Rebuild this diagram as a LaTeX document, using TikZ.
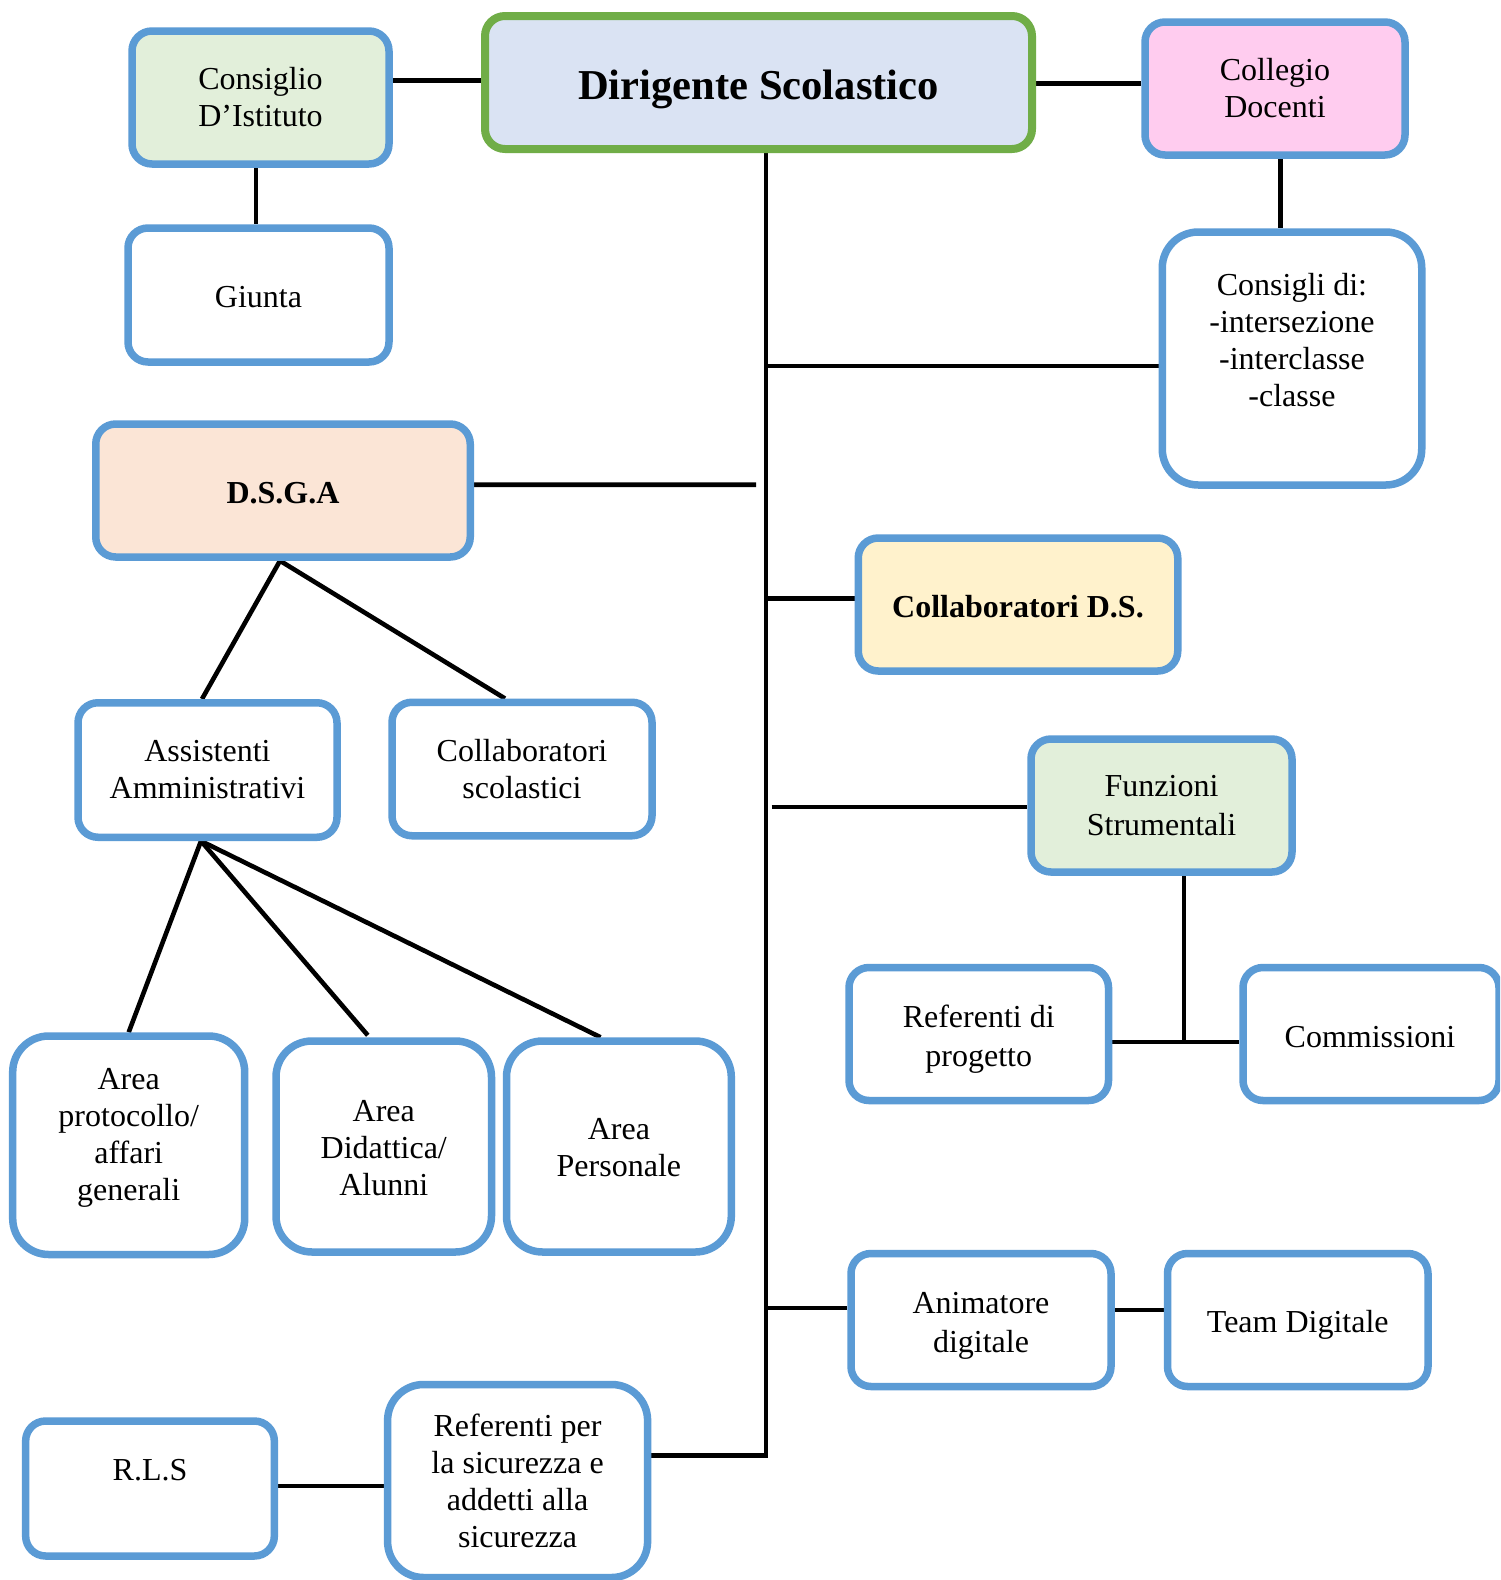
\documentclass[tikz,border=0pt]{standalone}
\usepackage{fontspec}
\setmainfont{Liberation Serif}
\usetikzlibrary{backgrounds}
\definecolor{bblue}{HTML}{5B9BD5}
\definecolor{dgreen}{HTML}{70AD47}
\definecolor{dfill}{HTML}{DAE3F3}
\definecolor{gfill}{HTML}{E2EFDA}
\definecolor{pfill}{HTML}{FFCCEF}
\definecolor{ofill}{HTML}{FBE5D6}
\definecolor{yfill}{HTML}{FFF2CC}
\begin{document}
\begin{tikzpicture}[x=0.5pt,y=-0.5pt,
  box/.style={draw=bblue, line width=3.75pt, rounded corners=10pt, fill=white, inner sep=0pt, align=center, font=\fontsize{16}{18.5}\selectfont},
  tallbox/.style={box, rounded corners=18pt},
  txt/.style={align=center, inner sep=0pt, font=\fontsize{16}{18.5}\selectfont},
  btxt/.style={align=center, inner sep=0pt, font=\fontsize{16}{18.5}\selectfont\bfseries},
  conn/.style={line width=2.3pt, draw=black},
]
\clip (0,0) rectangle (1500,1580);

\node[box, fill=gfill, minimum width=128.5pt, minimum height=66.5pt] (cons) at (260.5,97.5) {Consiglio\\D’Istituto};
\node[box, draw=dgreen, line width=4pt, fill=dfill, minimum width=273.5pt, minimum height=66.5pt] (dir) at (758.5,82.5) {};
\node[align=center, inner sep=0pt, font=\fontsize{21.3}{25}\selectfont\bfseries] (dirT) at (758.5,89) {Dirigente Scolastico};
\node[box, fill=pfill, minimum width=130pt, minimum height=66.5pt] (coll) at (1275,88.5) {Collegio\\Docenti};
\node[box, minimum width=130.5pt, minimum height=67pt] (giunta) at (258.5,295) {};
\node[txt] (giuntaT) at (258.5,297) {Giunta};
\node[tallbox, minimum width=129.75pt, minimum height=126.5pt] (consigli) at (1292,358.5) {};
\node[txt] (consigliT) at (1292,340) {Consigli di:\\-intersezione\\-interclasse\\-classe};
\node[box, fill=ofill, minimum width=187.25pt, minimum height=66.5pt] (dsga) at (283,490.5) {};
\node[btxt] (dsgaT) at (283,493.5) {D.S.G.A};
\node[box, fill=yfill, minimum width=159.75pt, minimum height=66.5pt] (collDS) at (1018,604.5) {};
\node[btxt] (collDST) at (1018,606.5) {Collaboratori D.S.};
\node[box, minimum width=129.5pt, minimum height=67.25pt] (assist) at (207.5,770) {Assistenti\\Amministrativi};
\node[box, minimum width=130pt, minimum height=66.75pt] (collScol) at (522,769) {Collaboratori\\scolastici};
\node[box, fill=gfill, minimum width=130.5pt, minimum height=66.5pt, font=\fontsize{16}{19.1}\selectfont] (funz) at (1161.5,805.5) {Funzioni\\Strumentali};
\node[box, minimum width=129.75pt, minimum height=66.5pt] (refProg) at (978.75,1034) {};
\node[txt, font=\fontsize{16}{19.6}\selectfont] (refProgT) at (978.75,1039) {Referenti di\\progetto};
\node[box, minimum width=128pt, minimum height=66.5pt] (comm) at (1371,1034) {};
\node[txt] (commT) at (1370,1037) {Commissioni};
\node[tallbox, minimum width=116pt, minimum height=109.25pt] (areaP) at (128.7,1145.25) {};
\node[txt] (areaPT) at (128.7,1138) {Area\\protocollo/\\affari\\generali};
\node[tallbox, minimum width=107.75pt, minimum height=105.5pt] (areaD) at (383.75,1146.5) {};
\node[txt] (areaDT) at (383.75,1148) {Area\\Didattica/\\Alunni};
\node[tallbox, minimum width=112.4pt, minimum height=105.5pt] (areaPe) at (618.9,1146.5) {};
\node[txt] (areaPeT) at (618.9,1148) {Area\\Personale};
\node[box, minimum width=130pt, minimum height=66.5pt] (anim) at (981,1320) {};
\node[txt, font=\fontsize{16}{19.2}\selectfont] (animT) at (981,1326) {Animatore\\digitale};
\node[box, minimum width=130.25pt, minimum height=66.5pt] (team) at (1297.75,1320) {};
\node[txt] (teamT) at (1297.75,1325) {Team Digitale};
\node[box, minimum width=124.35pt, minimum height=67.5pt] (rls) at (150,1488.5) {};
\node[txt] (rlsT) at (150,1470) {R.L.S};
\node[tallbox, minimum width=130pt, minimum height=96.5pt] (refSic) at (517.6,1481) {Referenti per\\la sicurezza e\\addetti alla\\sicurezza};

\begin{pgfonlayer}{background}
\fill[white] (0,0) rectangle (1500,1580);
\draw[conn] ([yshift=8.5pt]cons.east) -- ([yshift=1pt]dir.west);
\draw[conn] ([yshift=-0.5pt]dir.east) -- ([yshift=2.5pt]coll.west);
\draw[conn] ([xshift=-2.25pt]cons.south) -- ([xshift=-1.25pt]giunta.north);
\draw[conn] ([xshift=2.8pt]coll.south) -- ([xshift=-5.7pt]consigli.north);
\coordinate (tb) at (766,1455.5);
\draw[conn] ([xshift=3.75pt]dir.south) -- (tb) -- ([yshift=12.75pt]refSic.east);
\coordinate (j1) at (766,365.8);
\draw[conn] (j1) -- ([yshift=-3.65pt]consigli.west);
\coordinate (j2) at (756,484.7);
\draw[conn] ([yshift=2.9pt]dsga.east) -- (j2);
\coordinate (j3) at (766,598.3);
\draw[conn] (j3) -- ([yshift=3.1pt]collDS.west);
\coordinate (j4) at (771.5,807);
\draw[conn] (j4) -- ([yshift=-0.75pt]funz.west);
\coordinate (j5) at (1184,1042);
\draw[conn] ([xshift=11.25pt]funz.south) -- (j5);
\draw[conn] ([yshift=-4pt]refProg.east) -- ([yshift=-4pt]comm.west);
\coordinate (j6) at (766,1308);
\draw[conn] (j6) -- ([yshift=6pt]anim.west);
\draw[conn] ([yshift=5pt]anim.east) -- ([yshift=5pt]team.west);
\draw[conn] ([yshift=1.25pt]rls.east) -- ([yshift=-2.5pt]refSic.west);
\draw[conn] ([xshift=-2.75pt]assist.north) -- ([xshift=-1.5pt]dsga.south) -- ([xshift=-8.5pt]collScol.north);
\draw[conn] (areaP.north) -- ([xshift=-3.25pt]assist.south) -- ([xshift=-8pt,yshift=1pt]areaD.north);
\draw[conn] ([xshift=-3.25pt]assist.south) -- ([xshift=-9.2pt]areaPe.north);
\end{pgfonlayer}
\end{tikzpicture}
\end{document}
